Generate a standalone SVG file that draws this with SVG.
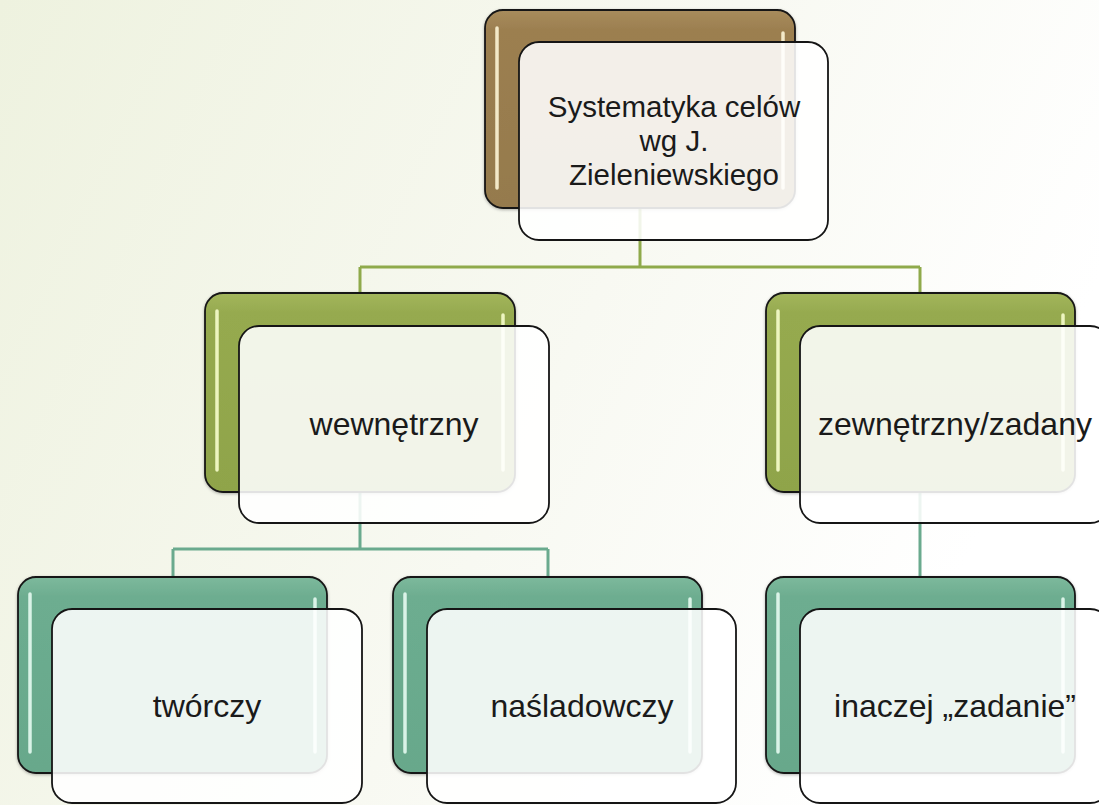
<svg xmlns="http://www.w3.org/2000/svg" width="1099" height="805" viewBox="0 0 1099 805">
<defs>
<linearGradient id="bg" x1="0" y1="0" x2="1" y2="0.35">
<stop offset="0" stop-color="#EEF2DF"/>
<stop offset="0.6" stop-color="#F8F9F2"/>
<stop offset="1" stop-color="#FFFFFF"/>
</linearGradient>
<linearGradient id="gBrown" x1="0" y1="0" x2="0" y2="1">
<stop offset="0" stop-color="#A88C5C"/>
<stop offset="0.1" stop-color="#9C7F50"/>
<stop offset="1" stop-color="#957A4D"/>
</linearGradient>
<linearGradient id="gGreen" x1="0" y1="0" x2="0" y2="1">
<stop offset="0" stop-color="#A3B65C"/>
<stop offset="0.1" stop-color="#96AA4F"/>
<stop offset="1" stop-color="#8FA44A"/>
</linearGradient>
<linearGradient id="gTeal" x1="0" y1="0" x2="0" y2="1">
<stop offset="0" stop-color="#7DB99C"/>
<stop offset="0.1" stop-color="#6DAD90"/>
<stop offset="1" stop-color="#67A88B"/>
</linearGradient>
<filter id="sh" x="-10%" y="-10%" width="120%" height="120%">
<feDropShadow dx="0" dy="1" stdDeviation="1.5" flood-color="#000" flood-opacity="0.3"/>
</filter>
</defs>
<style>
.back{stroke:#151515;stroke-width:1.8}
.front{fill:#FFFFFF;fill-opacity:0.88;stroke:#151515;stroke-width:1.8}
.hl{stroke-width:3.5;stroke-linecap:round;opacity:0.95}
.hlB{stroke:#F8EFCF}
.hlG{stroke:#F2FAC6}
.hlT{stroke:#E0F7EC}
.lbl{font-family:"Liberation Sans",Arial,sans-serif;font-size:32px;fill:#1a1a1a;text-anchor:middle}
.top{font-size:29.5px}
.cg{stroke:#8FAA4B;stroke-width:3;fill:none}
.ct{stroke:#6AAA8E;stroke-width:3;fill:none}
</style>
<rect x="0" y="0" width="1099" height="805" fill="url(#bg)"/>

<g id="connectors">
<path class="cg" d="M640 208 V267 M360 267 H920 M360 267 V293 M920 267 V293"/>
<path class="ct" d="M360 492 V549 M173 549 H548 M173 549 V577 M548 549 V577 M920 492 V577"/>
</g>

<g id="node-root">
<rect class="back" x="485" y="10" width="310" height="198" rx="18" fill="url(#gBrown)" filter="url(#sh)"/>
<line class="hl hlB" x1="497" y1="28" x2="497" y2="188"/>
<line class="hl hlB" x1="783" y1="33" x2="783" y2="188"/>
<rect class="front" x="519" y="42" width="309" height="198" rx="20"/>
<text class="lbl top" x="674" y="117">Systematyka celów</text>
<text class="lbl top" x="674" y="151">wg J.</text>
<text class="lbl top" x="674" y="185">Zieleniewskiego</text>
</g>

<g id="node-wewnetrzny">
<rect class="back" x="205" y="293" width="310" height="199" rx="18" fill="url(#gGreen)" filter="url(#sh)"/>
<line class="hl hlG" x1="217" y1="311" x2="217" y2="470"/>
<line class="hl hlG" x1="503" y1="315" x2="503" y2="470"/>
<rect class="front" x="239" y="326" width="310" height="197" rx="20"/>
<text class="lbl" x="394" y="435">wewnętrzny</text>
</g>

<g id="node-zewnetrzny">
<rect class="back" x="766" y="293" width="309" height="199" rx="18" fill="url(#gGreen)" filter="url(#sh)"/>
<line class="hl hlG" x1="778" y1="311" x2="778" y2="470"/>
<line class="hl hlG" x1="1063" y1="315" x2="1063" y2="470"/>
<rect class="front" x="800" y="326" width="310" height="197" rx="20"/>
<text class="lbl" x="955" y="435">zewnętrzny/zadany</text>
</g>

<g id="node-tworczy">
<rect class="back" x="18" y="577" width="309" height="196" rx="18" fill="url(#gTeal)" filter="url(#sh)"/>
<line class="hl hlT" x1="30" y1="594" x2="30" y2="752"/>
<line class="hl hlT" x1="315" y1="599" x2="315" y2="752"/>
<rect class="front" x="52" y="609" width="310" height="194" rx="20"/>
<text class="lbl" x="207" y="717">twórczy</text>
</g>

<g id="node-nasladowczy">
<rect class="back" x="393" y="577" width="309" height="196" rx="18" fill="url(#gTeal)" filter="url(#sh)"/>
<line class="hl hlT" x1="405" y1="594" x2="405" y2="752"/>
<line class="hl hlT" x1="690" y1="599" x2="690" y2="752"/>
<rect class="front" x="427" y="609" width="309" height="194" rx="20"/>
<text class="lbl" x="582" y="717">naśladowczy</text>
</g>

<g id="node-zadanie">
<rect class="back" x="766" y="577" width="309" height="196" rx="18" fill="url(#gTeal)" filter="url(#sh)"/>
<line class="hl hlT" x1="778" y1="594" x2="778" y2="752"/>
<line class="hl hlT" x1="1063" y1="599" x2="1063" y2="752"/>
<rect class="front" x="800" y="609" width="310" height="194" rx="20"/>
<text class="lbl" x="955" y="717">inaczej „zadanie”</text>
</g>
</svg>
